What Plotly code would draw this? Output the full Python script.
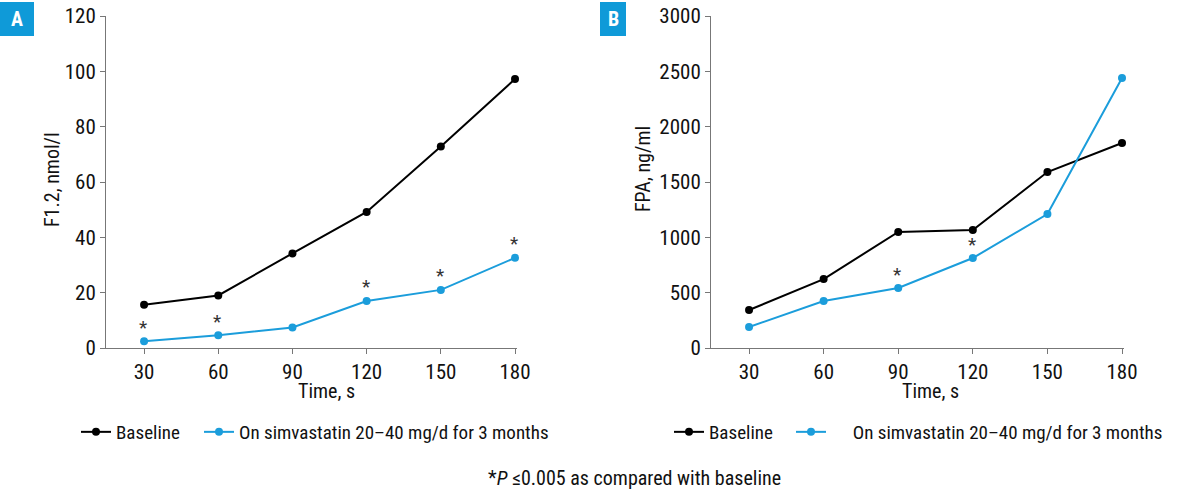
import plotly.graph_objects as go

time_s = [30, 60, 90, 120, 150, 180]
f12_baseline = [15.6, 19.0, 34.2, 49.2, 72.8, 97.2]
f12_simva = [2.4, 4.6, 7.4, 17.0, 21.0, 32.6]
fpa_baseline = [343, 623, 1048, 1066, 1590, 1852]
fpa_simva = [190, 425, 542, 813, 1210, 2440]
f12_sig_times = [30, 60, 120, 150, 180]
fpa_sig_times = [90, 120]
f12_ticks = [0, 20, 40, 60, 80, 100, 120]
fpa_ticks = [0, 500, 1000, 1500, 2000, 2500, 3000]
series_names = ["Baseline", "On simvastatin 20\u201340 mg/d for 3 months"]

BLUE = "#1b9ddb"
BLACK = "#000000"
FONT = "Roboto Condensed, Roboto, Arial, sans-serif"

fig = go.Figure()

def add_series(x, y, name, color, xa, ya, legend):
    fig.add_trace(go.Scatter(
        x=x, y=y, name=name, mode="lines+markers",
        line=dict(color=color, width=2),
        marker=dict(color=color, size=8),
        xaxis=xa, yaxis=ya, legend=legend, cliponaxis=False, showlegend=True,
    ))

add_series(time_s, f12_baseline, series_names[0], BLACK, "x", "y", "legend")
add_series(time_s, f12_simva, series_names[1], BLUE, "x", "y", "legend2")
add_series(time_s, fpa_baseline, series_names[0], BLACK, "x2", "y2", "legend3")
add_series(time_s, fpa_simva, "     " + series_names[1], BLUE, "x2", "y2", "legend4")

for t in f12_sig_times:
    fig.add_annotation(x=t, y=f12_simva[time_s.index(t)], xref="x", yref="y",
                       text="*", showarrow=False, yshift=14, xshift=-1,
                       font=dict(family=FONT, size=19, color="#333"))
for t in fpa_sig_times:
    fig.add_annotation(x=t, y=fpa_simva[time_s.index(t)], xref="x2", yref="y2",
                       text="*", showarrow=False, yshift=14, xshift=-1,
                       font=dict(family=FONT, size=19, color="#333"))

axis_common = dict(showline=True, linecolor="#777", linewidth=1, ticks="outside",
                   ticklen=5, tickcolor="#777", showgrid=False, zeroline=False,
                   automargin=False,
                   tickfont=dict(family=FONT, size=21, color="#111"))

W, H = 1198, 500
legend_common = dict(orientation="h", y=(H - 432) / H, xanchor="left", yanchor="middle",
                     font=dict(family=FONT, size=19), bgcolor="rgba(0,0,0,0)", visible=True)
fig.update_layout(
    template="none",
    showlegend=True,
    width=W, height=H, margin=dict(l=0, r=0, t=0, b=0, pad=0, autoexpand=False),
    paper_bgcolor="white", plot_bgcolor="white",
    font=dict(family=FONT, size=19, color="#111"),
    xaxis=dict(domain=[106 / W, 517 / W], range=[14.6, 180.8], tickvals=time_s,
               anchor="y", **axis_common),
    yaxis=dict(domain=[(H - 348) / H, (H - 16) / H], range=[0, 120], tickvals=f12_ticks,
               anchor="x", **axis_common),
    xaxis2=dict(domain=[711 / W, 1124 / W], range=[14.7, 180.8], tickvals=time_s,
                anchor="y2", **axis_common),
    yaxis2=dict(domain=[(H - 348) / H, (H - 16) / H], range=[0, 3000], tickvals=fpa_ticks,
                anchor="x2", **axis_common),
    legend=dict(x=76 / W, **legend_common),
    legend2=dict(x=199 / W, **legend_common),
    legend3=dict(x=669 / W, **legend_common),
    legend4=dict(x=791 / W, **legend_common),
)

def paper_text(text, x, y, size=19, angle=0, color="#111"):
    fig.add_annotation(text=text, x=x / W, y=(H - y) / H, xref="paper", yref="paper",
                       xanchor="center", yanchor="middle", showarrow=False,
                       textangle=angle, font=dict(family=FONT, size=size, color=color))

paper_text("Time, s", 326, 391, size=20)
paper_text("Time, s", 930, 391, size=20)
paper_text("F1.2, nmol/l", 52, 180, size=20, angle=-90)
paper_text("FPA, ng/ml", 643, 169, size=20, angle=-90)

for lbl, x0, w in (("A", 0, 34), ("B", 600, 26)):
    fig.add_shape(type="rect", xref="paper", yref="paper",
                  x0=x0 / W, x1=(x0 + w) / W,
                  y0=(H - 36) / H, y1=(H - 2) / H, fillcolor="#0f9ad8", line_width=0)
    paper_text("<b>%s</b>" % lbl, x0 + w / 2, 19, size=20, color="white")

paper_text("*<i>P</i> \u22640.005 as compared with baseline", 634, 478, size=20)

fig.write_html("out.html")
